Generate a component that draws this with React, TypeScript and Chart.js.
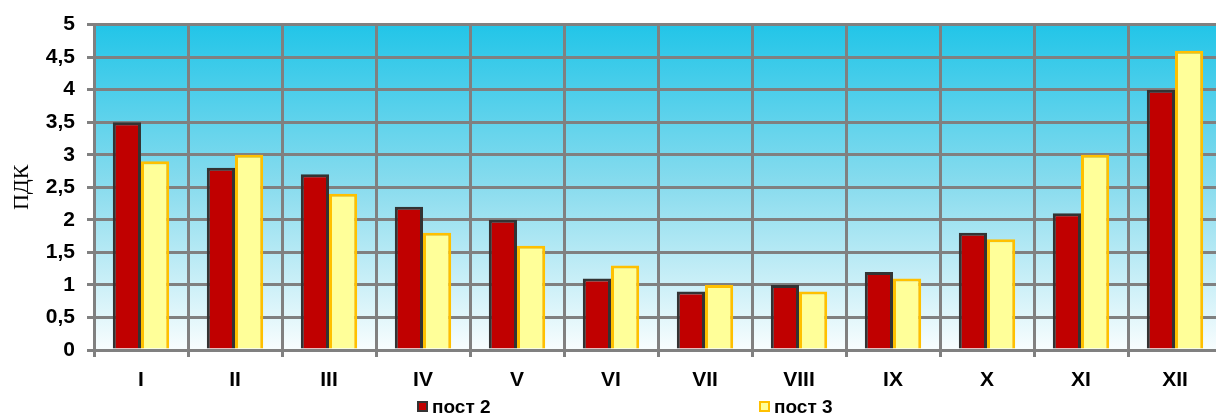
import React, { useEffect, useRef } from "react";
import { Chart, registerables } from "chart.js";

Chart.register(...registerables);

const categories = ["I", "II", "III", "IV", "V", "VI", "VII", "VIII", "IX", "X", "XI", "XII"];
const post2 = [3.5, 2.8, 2.7, 2.2, 2.0, 1.1, 0.9, 1.0, 1.2, 1.8, 2.1, 4.0];
const post3 = [2.9, 3.0, 2.4, 1.8, 1.6, 1.3, 1.0, 0.9, 1.1, 1.7, 3.0, 4.6];
const seriesNames = ["пост 2", "пост 3"];
const yAxisTitle = "ПДК";

const RED = "#C00000";
const RED_BORDER = "#333333";
const YELLOW = "#FFFF99";
const YELLOW_BORDER = "#FFC000";
const GRID = "#808080";

const bgPlugin = {
  id: "plotBg",
  beforeDraw(chart: any) {
    const { ctx, chartArea } = chart;
    if (!chartArea) return;
    const g = ctx.createLinearGradient(0, chartArea.top, 0, chartArea.bottom);
    g.addColorStop(0, "#22C5E8");
    g.addColorStop(0.5, "#8ADCEE");
    g.addColorStop(1, "#F8FDFE");
    ctx.save();
    ctx.fillStyle = g;
    ctx.fillRect(chartArea.left, chartArea.top, chartArea.right - chartArea.left, chartArea.bottom - chartArea.top);
    ctx.restore();
  },
};

export default function App() {
  const ref = useRef<HTMLCanvasElement | null>(null);

  useEffect(() => {
    if (!ref.current) return;
    const chart = new Chart(ref.current, {
      type: "bar",
      data: {
        labels: categories,
        datasets: [
          {
            label: seriesNames[0],
            data: post2,
            backgroundColor: RED,
            borderColor: RED_BORDER,
            borderWidth: 3,
            borderSkipped: "bottom",
            barPercentage: 1.0,
            categoryPercentage: 0.6,
          },
          {
            label: seriesNames[1],
            data: post3,
            backgroundColor: YELLOW,
            borderColor: YELLOW_BORDER,
            borderWidth: 3,
            borderSkipped: "bottom",
            barPercentage: 1.0,
            categoryPercentage: 0.6,
          },
        ],
      },
      options: {
        animation: false,
        responsive: true,
        maintainAspectRatio: false,
        layout: { padding: { top: 22, right: 8, bottom: 0, left: 0 } },
        plugins: {
          legend: { display: false },
          tooltip: { enabled: false },
        },
        scales: {
          x: {
            offset: true,
            grid: {
              offset: true,
              color: GRID,
              lineWidth: 3,
              tickLength: 7,
              drawTicks: true,
            },
            border: { display: true, color: GRID, width: 3 },
            ticks: {
              color: "#000",
              padding: 11,
              font: { family: "Liberation Sans, Arial, sans-serif", size: 21, weight: "bold" },
            },
            afterFit(scale: any) {
              scale.height = 67;
            },
          },
          y: {
            min: 0,
            max: 5,
            grid: {
              color: GRID,
              lineWidth: 3,
              tickLength: 7,
              drawTicks: true,
            },
            border: { display: true, color: GRID, width: 3 },
            ticks: {
              stepSize: 0.5,
              color: "#000",
              padding: 12,
              font: { family: "Liberation Sans, Arial, sans-serif", size: 21, weight: "bold" },
              callback: (v: any) => String(Math.round(Number(v) * 10) / 10).replace(".", ","),
            },
            title: {
              display: true,
              text: yAxisTitle,
              color: "#000",
              padding: { top: 9, bottom: 0 },
              font: { family: "Liberation Serif, Times New Roman, serif", size: 22, weight: "normal" },
            },
            afterFit(scale: any) {
              scale.width = 94;
            },
          },
        },
      },
      plugins: [bgPlugin],
    });
    return () => chart.destroy();
  }, []);

  const legendFont = "bold 19px 'Liberation Sans', Arial, sans-serif";
  const items = [
    { name: seriesNames[0], fill: RED, border: RED_BORDER, left: 417 },
    { name: seriesNames[1], fill: YELLOW, border: YELLOW_BORDER, left: 759 },
  ];

  return (
    <div style={{ position: "absolute", left: 0, top: 0, width: 1216, height: 417, overflow: "hidden", background: "#fff" }}>
      <div style={{ position: "relative", width: 1230, height: 417 }}>
        <canvas ref={ref} />
        {items.map((it) => (
          <div
            key={it.name}
            style={{
              position: "absolute",
              left: it.left,
              top: 397,
              display: "flex",
              alignItems: "center",
              font: legendFont,
              color: "#000",
              lineHeight: "19px",
              whiteSpace: "nowrap",
            }}
          >
            <span
              style={{
                display: "inline-block",
                width: 7,
                height: 7,
                background: it.fill,
                border: `2px solid ${it.border}`,
                marginRight: 4,
              }}
            />
            {it.name}
          </div>
        ))}
      </div>
    </div>
  );
}
